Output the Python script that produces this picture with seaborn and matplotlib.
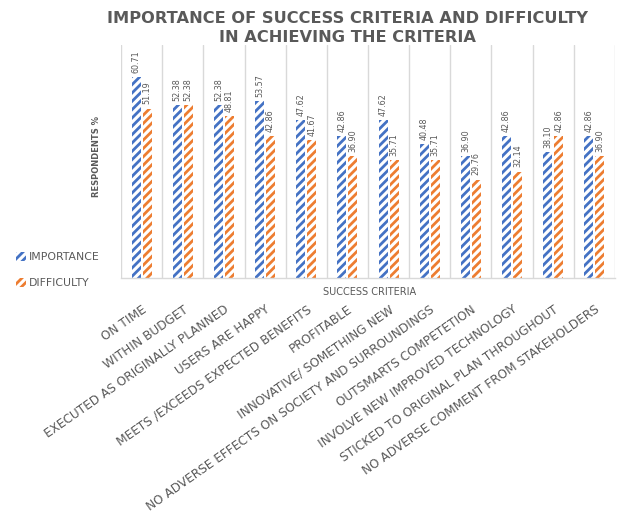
import matplotlib
matplotlib.use("Agg")
import matplotlib.pyplot as plt
import seaborn as sns
import pandas as pd
import numpy as np
from matplotlib.patches import Patch

categories = [
    "ON TIME", "WITHIN BUDGET", "EXECUTED AS ORIGINALLY PLANNED", "USERS ARE HAPPY",
    "MEETS /EXCEEDS EXPECTED BENEFITS", "PROFITABLE", "INNOVATIVE/ SOMETHING NEW",
    "NO ADVERSE EFFECTS ON SOCIETY AND SURROUNDINGS", "OUTSMARTS COMPETETION",
    "INVOLVE NEW IMPROVED TECHNOLOGY", "STICKED TO ORIGINAL PLAN THROUGHOUT",
    "NO ADVERSE COMMENT FROM STAKEHOLDERS",
]
importance = [60.71, 52.38, 52.38, 53.57, 47.62, 42.86, 47.62, 40.48, 36.90, 42.86, 38.10, 42.86]
difficulty = [51.19, 52.38, 48.81, 42.86, 41.67, 36.90, 35.71, 35.71, 29.76, 32.14, 42.86, 36.90]
series_names = ["IMPORTANCE", "DIFFICULTY"]

df = pd.DataFrame({
    "criteria": categories * 2,
    "value": importance + difficulty,
    "series": [series_names[0]] * len(categories) + [series_names[1]] * len(categories),
})

sns.set_theme(style="white")
plt.rcParams["font.family"] = ["DejaVu Sans"]
plt.rcParams["hatch.linewidth"] = 2.0

colors = {"IMPORTANCE": "#4472C4", "DIFFICULTY": "#ED7D31"}
gray = "#595959"

fig = plt.figure(figsize=(6.19, 5.27), dpi=100)
ax = fig.add_axes([0.1955, 0.4725, 0.798, 0.442])

sns.barplot(data=df, x="criteria", y="value", hue="series", palette=colors,
            width=0.53, gap=0.17, ax=ax, legend=False)

for cont, name in zip(ax.containers, series_names):
    c = colors[name]
    for p in cont:
        p.set_facecolor("white")
        p.set_edgecolor(c)
        p.set_linewidth(0)
        p.set_hatch("////")
    ax.bar_label(cont, fmt="%.2f", rotation=90, padding=3, fontsize=5.8, color=gray)

ax.set_ylim(0, 70.4)
ax.set_xlim(-0.5, len(categories) - 0.5)
ax.set_yticks([])
for s in ["top", "right", "left"]:
    ax.spines[s].set_visible(False)
ax.spines["bottom"].set_color("#D9D9D9")
ax.spines["bottom"].set_linewidth(1.0)
ax.set_xticks(np.arange(-0.5, len(categories), 1.0), minor=True)
ax.grid(axis="x", which="minor", color="#D9D9D9", linewidth=1.0)
ax.grid(axis="x", which="major", visible=False)
ax.tick_params(axis="x", which="both", length=0)
ax.set_xticks(range(len(categories)))
ax.set_xticklabels(categories, rotation=35, ha="right", rotation_mode="anchor",
                   fontsize=8.7, color=gray)
ax.tick_params(axis="x", pad=18)

ax.set_xlabel("SUCCESS CRITERIA", fontsize=7, color=gray)
ax.xaxis.set_label_coords(0.504, -0.04)
ax.set_ylabel("RESPONDENTS %", fontsize=6, color=gray, fontweight="bold")
ax.yaxis.set_label_coords(-0.04, 0.52)

fig.text(0.561, 0.979, "IMPORTANCE OF SUCCESS CRITERIA AND DIFFICULTY\nIN ACHIEVING THE CRITERIA",
         ha="center", va="top", fontsize=11.7, fontweight="bold", color=gray,
         linespacing=1.3)

handles = [Patch(facecolor="white", edgecolor=colors[n], hatch="////", linewidth=0) for n in series_names]
fig.legend(handles, series_names, loc="upper left", bbox_to_anchor=(0.01, 0.54),
           frameon=False, fontsize=7.8, labelcolor=gray, handlelength=0.9, handleheight=0.9,
           handletextpad=0.3, labelspacing=1.4)

fig.savefig("out.png", dpi=100)
